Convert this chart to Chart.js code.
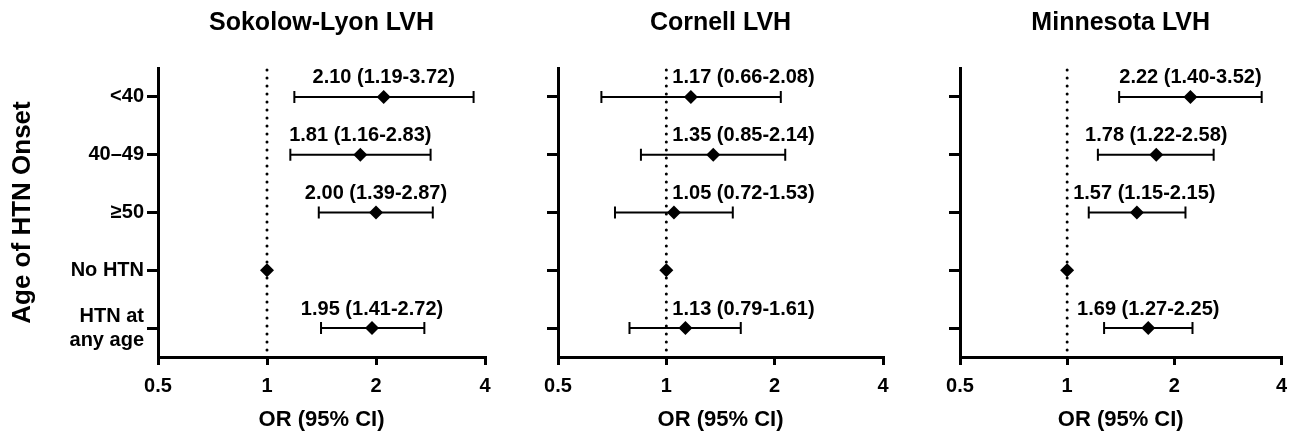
<!DOCTYPE html>
<html>
<head>
<meta charset="utf-8">
<script src="https://cdn.jsdelivr.net/npm/chart.js@4"></script>
<style>
body { margin: 0; background: #fff; }
#wrap { position: relative; width: 1296px; height: 434px; }
canvas { position: absolute; top: 0; }
</style>
</head>
<body>
<div id="wrap">
<canvas id="c1" width="520" height="434" style="left:0px"></canvas>
<canvas id="c2" width="400" height="434" style="left:520px"></canvas>
<canvas id="c3" width="376" height="434" style="left:920px"></canvas>
</div>
<script>
// Data
var categories = ['<40', '40–49', '≥50', 'No HTN', ['HTN at', 'any age']];
var xTicks = [0.5, 1, 2, 4];

var sokolowOR = [2.10, 1.81, 2.00, 1, 1.95];
var sokolowLow = [1.19, 1.16, 1.39, null, 1.41];
var sokolowHigh = [3.72, 2.83, 2.87, null, 2.72];

var cornellOR = [1.17, 1.35, 1.05, 1, 1.13];
var cornellLow = [0.66, 0.85, 0.72, null, 0.79];
var cornellHigh = [2.08, 2.14, 1.53, null, 1.61];

var minnesotaOR = [2.22, 1.78, 1.57, 1, 1.69];
var minnesotaLow = [1.40, 1.22, 1.15, null, 1.27];
var minnesotaHigh = [3.52, 2.58, 2.15, null, 2.25];

var FONT = '"Liberation Sans", Arial, Helvetica, sans-serif';
Chart.defaults.font.family = FONT;
Chart.defaults.color = '#000';

// Plugin that draws the reference line, CI whiskers, value labels and panel title
function forestPlugin(title, or, lo, hi) {
    return {
        id: 'forest',
        beforeDatasetsDraw: function(chart) {
            var ctx = chart.ctx;
            var xs = chart.scales.x, ys = chart.scales.y;
            var area = chart.chartArea;
            var x1 = xs.getPixelForValue(1);

            // dotted line at OR = 1
            ctx.save();
            ctx.strokeStyle = '#000';
            ctx.lineWidth = 3;
            ctx.lineCap = 'round';
            ctx.setLineDash([0, 8]);
            ctx.beginPath();
            ctx.moveTo(x1, area.top + 2);
            ctx.lineTo(x1, area.bottom);
            ctx.stroke();
            ctx.restore();

            // error bars
            ctx.save();
            ctx.strokeStyle = '#000';
            ctx.lineWidth = 2;
            for (var i = 0; i < or.length; i++) {
                if (lo[i] === null) continue;
                var y = ys.getPixelForValue(i);
                var a = xs.getPixelForValue(lo[i]);
                var b = xs.getPixelForValue(hi[i]);
                ctx.beginPath();
                ctx.moveTo(a, y); ctx.lineTo(b, y);
                ctx.moveTo(a, y - 6); ctx.lineTo(a, y + 6);
                ctx.moveTo(b, y - 6); ctx.lineTo(b, y + 6);
                ctx.stroke();
            }
            ctx.restore();
        },
        afterDraw: function(chart) {
            var ctx = chart.ctx;
            var xs = chart.scales.x, ys = chart.scales.y;
            var area = chart.chartArea;
            var x1 = xs.getPixelForValue(1);

            ctx.save();
            ctx.fillStyle = '#000';
            ctx.textBaseline = 'middle';
            ctx.textAlign = 'left';
            ctx.font = 'bold 20px ' + FONT;
            for (var i = 0; i < or.length; i++) {
                if (lo[i] === null) continue;
                var txt = or[i].toFixed(2) + ' (' + lo[i].toFixed(2) + '-' + hi[i].toFixed(2) + ')';
                var w = ctx.measureText(txt).width;
                var cx = xs.getPixelForValue(or[i]);
                var left = Math.max(cx - w / 2, x1 + 6);
                ctx.fillText(txt, left, ys.getPixelForValue(i) - 19);
            }

            // panel title
            ctx.textAlign = 'center';
            ctx.font = 'bold 25px ' + FONT;
            ctx.fillText(title, (area.left + area.right) / 2, 23);
            ctx.restore();
        }
    };
}

// Function to create one forest plot panel
function createPanel(id, title, or, lo, hi, showY, yWidth, padRight) {
    var points = or.map(function(v, i) { return {x: v, y: i}; });
    return new Chart(document.getElementById(id), {
        type: 'scatter',
        data: {
            datasets: [{
                data: points,
                pointStyle: 'rectRot',
                pointRadius: 7,
                pointHoverRadius: 7,
                backgroundColor: '#000',
                borderWidth: 0
            }]
        },
        options: {
            responsive: false,
            animation: false,
            layout: { padding: { top: 68, right: padRight, left: 0, bottom: 0 } },
            plugins: {
                legend: { display: false },
                tooltip: { enabled: false }
            },
            scales: {
                x: {
                    type: 'logarithmic',
                    min: 0.5,
                    max: 4,
                    afterBuildTicks: function(s) {
                        s.ticks = xTicks.map(function(v) { return {value: v}; });
                    },
                    afterFit: function(s) { s.height = 77; },
                    ticks: {
                        callback: function(v) { return String(v); },
                        font: { size: 20, weight: 'bold' },
                        padding: 9,
                        maxRotation: 0,
                        autoSkip: false
                    },
                    grid: { drawOnChartArea: false, drawTicks: true, tickLength: 8, color: '#000', lineWidth: 3 },
                    border: { display: true, color: '#000', width: 3 },
                    title: {
                        display: true,
                        text: 'OR (95% CI)',
                        font: { size: 22, weight: 'bold' },
                        padding: { top: 0, bottom: 1 }
                    }
                },
                y: {
                    type: 'category',
                    labels: categories,
                    offset: true,
                    afterFit: function(s) { s.width = yWidth; },
                    ticks: {
                        display: showY,
                        font: { size: 20, weight: 'bold' },
                        padding: 3,
                        autoSkip: false
                    },
                    grid: { drawOnChartArea: false, drawTicks: true, tickLength: 11, color: '#000', lineWidth: 3 },
                    border: { display: true, color: '#000', width: 3 },
                    title: {
                        display: showY,
                        text: 'Age of HTN Onset',
                        font: { size: 26, weight: 'bold' },
                        padding: { top: 7, bottom: 0 }
                    }
                }
            }
        },
        plugins: [forestPlugin(title, or, lo, hi)]
    });
}

createPanel('c1', 'Sokolow-Lyon LVH', sokolowOR, sokolowLow, sokolowHigh, true, 158, 35);
createPanel('c2', 'Cornell LVH', cornellOR, cornellLow, cornellHigh, false, 38, 37);
createPanel('c3', 'Minnesota LVH', minnesotaOR, minnesotaLow, minnesotaHigh, false, 40, 13);
</script>
</body>
</html>
